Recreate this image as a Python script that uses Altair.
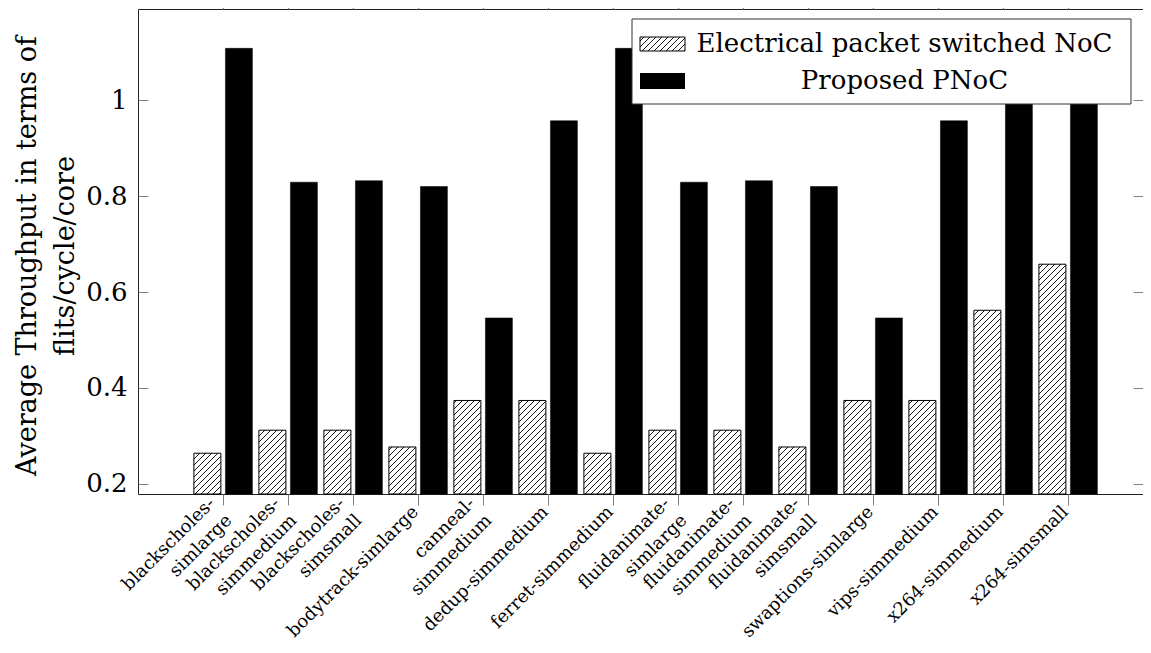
import json
import math
import altair as alt
import pandas as pd

# ---------------- data ----------------
categories = [
    "blackscholes-simlarge", "blackscholes-simmedium", "blackscholes-simsmall",
    "bodytrack-simlarge", "canneal-simmedium", "dedup-simmedium",
    "ferret-simmedium", "fluidanimate-simlarge", "fluidanimate-simmedium",
    "fluidanimate-simsmall", "swaptions-simlarge", "vips-simmedium",
    "x264-simmedium", "x264-simsmall",
]
tick_lines = [
    ["blackscholes-", "simlarge"], ["blackscholes-", "simmedium"], ["blackscholes-", "simsmall"],
    ["bodytrack-simlarge"], ["canneal-", "simmedium"], ["dedup-simmedium"],
    ["ferret-simmedium"], ["fluidanimate-", "simlarge"], ["fluidanimate-", "simmedium"],
    ["fluidanimate-", "simsmall"], ["swaptions-simlarge"], ["vips-simmedium"],
    ["x264-simmedium"], ["x264-simsmall"],
]
electrical = [0.264, 0.312, 0.312, 0.277, 0.374, 0.374, 0.264,
              0.312, 0.312, 0.277, 0.374, 0.374, 0.562, 0.658]
pnoc = [1.108, 0.829, 0.832, 0.820, 0.546, 0.957, 1.108,
        0.829, 0.832, 0.820, 0.546, 0.957, 1.108, 1.108]
series_names = ["Electrical packet switched NoC", "Proposed PNoC"]
y_ticks = [0.2, 0.4, 0.6, 0.8, 1.0]
y_title = ["Average Throughput in terms of", "flits/cycle/core"]

# ---------------- layout / style ----------------
W, H = 1005, 485
XMIN = -1.31
XMAX = XMIN + W / 65.0
YMIN, YMAX = 0.179, 1.19
FONT = "DejaVu Serif"
TICK_COLOR = "#808080"
HATCH_SP = 6.0      # px between hatch lines (horizontal)
BAR_LEFT_OFF, BAR_RIGHT_OFF, BAR_W = -0.45, 0.035, 0.415

n = len(categories)
idx = list(range(n))
two_line_idx = [i for i, t in enumerate(tick_lines) if len(t) > 1]

bars = pd.DataFrame({
    "idx": idx * 2,
    "category": categories * 2,
    "series": [series_names[0]] * n + [series_names[1]] * n,
    "value": electrical + pnoc,
})
bars["x0"] = bars["idx"] + pd.Series([BAR_LEFT_OFF] * n + [BAR_RIGHT_OFF] * n)
bars["x1"] = bars["x0"] + BAR_W
hatched = bars[bars["series"] == series_names[0]].reset_index(drop=True)
solid = bars[bars["series"] == series_names[1]].reset_index(drop=True)

# hatch segments (45 degree "north east lines"), in data units
kx = W / (XMAX - XMIN)
ky = H / (YMAX - YMIN)
segs = []
for _, r in hatched.iterrows():
    Xa, Xb = r["x0"] * kx, r["x1"] * kx
    Ya, Yb = YMIN * ky, r["value"] * ky
    kmin = math.floor((Ya - Xb) / HATCH_SP)
    kmax = math.ceil((Yb - Xa) / HATCH_SP)
    for k in range(kmin, kmax + 1):
        c = k * HATCH_SP
        xs = max(Xa, Ya - c)
        xe = min(Xb, Yb - c)
        if xe - xs > 0.4:
            segs.append({"hx": xs / kx, "hy": (xs + c) / ky,
                         "hx2": xe / kx, "hy2": (xe + c) / ky})
hatch_df = pd.DataFrame(segs)

# legend symbol hatch (pixel space of the legend box)
LS = (502, 547, 28, 42)
lsegs = []
L, R, T, B = LS
for k in range(int((T + L) // HATCH_SP) - 1, int((B + R) // HATCH_SP) + 2):
    c = k * HATCH_SP
    xs = max(L, c - B)
    xe = min(R, c - T)
    if xe - xs > 0.4:
        lsegs.append({"lx": xs, "ly": c - xs, "lx2": xe, "ly2": c - xe})
lhatch_df = pd.DataFrame(lsegs)

xscale = alt.Scale(domain=[XMIN, XMAX], nice=False, zero=False)
yscale = alt.Scale(domain=[YMIN, YMAX], nice=False, zero=False)

label_expr = json.dumps(tick_lines) + "[datum.value]"
label_baseline = {
    "condition": {"test": f"indexof({json.dumps(two_line_idx)}, datum.value) >= 0",
                  "value": "line-bottom"},
    "value": "middle",
}

bottom_axis = alt.Axis(
    orient="bottom", values=idx, labelExpr=label_expr, labelAngle=315,
    labelAlign="right", labelBaseline=label_baseline, labelPadding=4,
    labelOffset=-3,
    labelFont=FONT, labelFontSize=18, labelLineHeight=24, labelColor="black",
    labelOverlap=False, labelBound=False, labelFlush=False, labelLimit=1000,
    tickSize=11, tickColor=TICK_COLOR, tickWidth=1,
    domain=False, grid=False, title=None,
)
left_axis = alt.Axis(
    orient="left", values=y_ticks, format=".1~f", labelFont=FONT,
    labelFontSize=26, labelColor="black", labelPadding=11,
    ticks=False, tickSize=0, domain=False, grid=False,
    title=y_title, titleFont=FONT, titleFontSize=27, titleFontWeight="normal",
    titleColor="black", titleAngle=270, titleAlign="center",
    titleBaseline="alphabetic", titleX=-103, titleY=H / 2 + 4, titleLineHeight=38,
)
top_axis = alt.Axis(orient="top", values=idx, labels=False, tickSize=9,
                    tickColor=TICK_COLOR, tickWidth=1, domain=False,
                    grid=False, title=None)
inner_left_ticks = alt.Axis(orient="right", offset=-W, values=y_ticks,
                            labels=False, tickSize=10, tickColor=TICK_COLOR,
                            tickWidth=1, domain=False, grid=False, title=None)
inner_right_ticks = alt.Axis(orient="left", offset=-W, values=y_ticks,
                             labels=False, tickSize=10, tickColor=TICK_COLOR,
                             tickWidth=1, domain=False, grid=False, title=None)

hatched_bars = alt.Chart(hatched).mark_rect(
    fill="white", stroke="black", strokeWidth=1
).encode(
    x=alt.X("x0:Q", scale=xscale, axis=bottom_axis),
    x2="x1:Q",
    y=alt.Y("value:Q", scale=yscale, axis=left_axis),
    y2=alt.datum(YMIN),
)

hatch_lines = alt.Chart(hatch_df).mark_rule(
    stroke="black", strokeWidth=0.9
).encode(
    x=alt.X("hx:Q", scale=xscale, axis=top_axis),
    x2="hx2:Q",
    y=alt.Y("hy:Q", scale=yscale, axis=inner_left_ticks),
    y2="hy2:Q",
)

solid_bars = alt.Chart(solid).mark_rect(
    fill="black", stroke="black", strokeWidth=0.5
).encode(
    x=alt.X("x0:Q", scale=xscale, axis=None),
    x2="x1:Q",
    y=alt.Y("value:Q", scale=yscale, axis=inner_right_ticks),
    y2=alt.datum(YMIN),
)

one = pd.DataFrame({"k": [0]})
legend_box = alt.Chart(one).mark_rect(
    fill="white", stroke="#333333", strokeWidth=1
).encode(x=alt.value(494), x2=alt.value(993), y=alt.value(10), y2=alt.value(95))

legend_sym1 = alt.Chart(one).mark_rect(
    fill="white", stroke="black", strokeWidth=1
).encode(x=alt.value(LS[0]), x2=alt.value(LS[1]), y=alt.value(LS[2]), y2=alt.value(LS[3]))

legend_hatch = alt.Chart(lhatch_df).mark_rule(stroke="black", strokeWidth=0.9).encode(
    x=alt.X("lx:Q", scale=None), x2="lx2:Q",
    y=alt.Y("ly:Q", scale=None), y2="ly2:Q",
)

legend_sym2 = alt.Chart(one).mark_rect(fill="black").encode(
    x=alt.value(502), x2=alt.value(547), y=alt.value(64), y2=alt.value(80))

legend_txt1 = alt.Chart(one).mark_text(
    font=FONT, fontSize=26, align="center", baseline="alphabetic", color="black"
).encode(x=alt.value(766.5), y=alt.value(43), text=alt.value(series_names[0]))

legend_txt2 = alt.Chart(one).mark_text(
    font=FONT, fontSize=26, align="center", baseline="alphabetic", color="black"
).encode(x=alt.value(766.5), y=alt.value(80), text=alt.value(series_names[1]))

chart = alt.layer(
    hatched_bars, hatch_lines, solid_bars,
    legend_box, legend_sym1, legend_hatch, legend_sym2, legend_txt1, legend_txt2,
).resolve_axis(
    x="independent", y="independent"
).properties(
    width=W, height=H,
    autosize=alt.AutoSizeParams(type="none"),
    padding={"left": 130, "top": 1, "right": 0, "bottom": 150},
).configure(
    background="white"
).configure_view(
    stroke="#222222", strokeWidth=1
)

chart.save("out.html", embed_options={"renderer": "svg", "actions": False})
